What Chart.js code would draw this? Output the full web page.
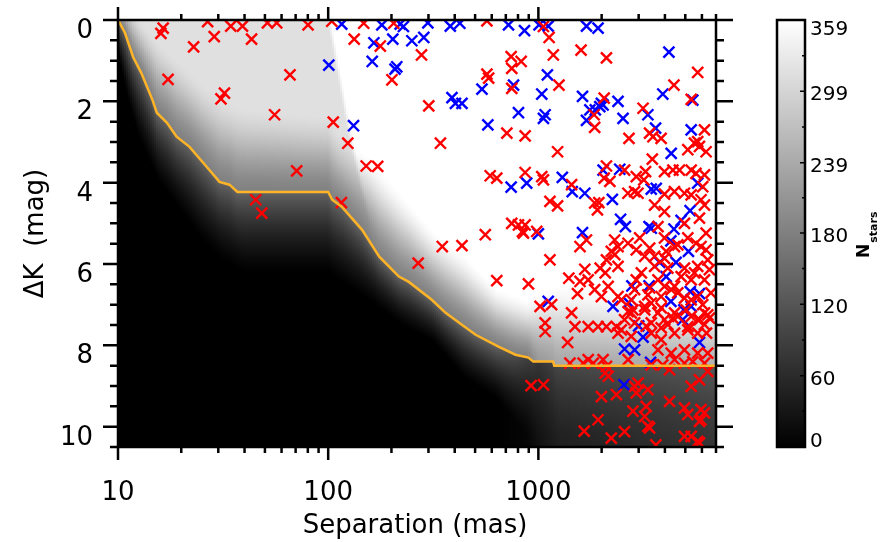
<!DOCTYPE html>
<html>
<head>
<meta charset="utf-8">
<script src="https://cdn.jsdelivr.net/npm/chart.js@4/dist/chart.umd.min.js"></script>
<style>
html,body{margin:0;padding:0;background:#fff;}
canvas{display:block;}
</style>
</head>
<body>
<canvas id="c" width="881" height="542"></canvas>
<script>
// ---------------- data ----------------
const xMajorTicks = [10, 100, 1000];
const xTickLabels = ['10', '100', '1000'];
const yMajorTicks = [0, 2, 4, 6, 8, 10];
const yTickLabels = ['0', '2', '4', '6', '8', '10'];
const cbTicks = [0, 60, 120, 180, 239, 299, 359];
const cbMax = 359;
const xTitle = 'Separation (mas)';
const yTitle = '\u0394K  (mag)';

// detection-limit contour (orange line)
const contourSep = [10, 10.4, 10.8, 11.8, 12.9, 14.6, 15.3, 17.1, 19.0, 21.9, 26.4, 30.4, 33.9, 37.0, 100, 104.5, 116, 145, 175, 217, 242, 311, 362, 431, 503, 646, 778, 897, 946, 1175, 1190, 7000];
const contourDK = [0, 0.16, 0.32, 0.91, 1.30, 1.97, 2.28, 2.53, 2.87, 3.12, 3.61, 3.98, 4.05, 4.23, 4.23, 4.42, 4.59, 5.16, 5.82, 6.31, 6.44, 6.88, 7.20, 7.49, 7.74, 8.03, 8.23, 8.30, 8.40, 8.40, 8.50, 8.50];

// background map (N stars) described column by column
const mapSep        = [10, 11.2, 12.6, 15.8, 20, 25.1, 31.6, 39.8, 63.1, 100, 112, 158, 224, 316, 447, 631, 891, 1000, 1259, 2512, 7000];
const mapFadeStart  = [-0.6, -0.4, 0.0, 0.6, 1.1, 1.6, 2.0, 2.2, 2.3, 2.4, 2.8, 3.4, 4.3, 5.2, 5.8, 6.6, 6.9, 6.7, 6.5, 6.7, 6.9];
const mapFadeEnd    = [0.8, 2.0, 2.9, 4.0, 4.7, 5.4, 5.9, 6.2, 6.2, 6.2, 6.4, 6.9, 7.5, 7.9, 8.8, 9.3, 10.2, 10.5, 10.5, 10.5, 10.5];
const mapLevelAbove = [180, 180, 180, 180, 180, 180, 180, 180, 180, 180, 180, 180, 180, 180, 180, 180, 180, 215, 235, 240, 248];
const mapLevelBelow = [140, 140, 140, 140, 140, 140, 140, 140, 140, 140, 140, 140, 140, 140, 140, 140, 90, 75, 100, 110, 124];
const mapLevelEnd   = [0, 0, 0, 0, 0, 0, 0, 0, 0, 0, 0, 0, 0, 0, 0, 0, 8, 22, 42, 55, 75];
const plateauLow = 315, plateauHigh = 359;
const plateauEdgeSep = [101, 123, 137, 158];
const plateauEdgeDK  = [0, 2.45, 3.6, 5.0];

// companions
const redSep = [16.4,16.0,26.7,28.7,22.9,34.4,39.1,43.2,51.4,56.9,80.2,17.3,32.1,30.9,65.8,55.6,70.8,45.2,48.3,
105.7,124,151.6,172,115.6,133,177,201,147.6,205,268,104,278,301,342,569,569,580,742,828,747,747,708,865,590,634,865,349,433,559,747,804,849,634,897,
1057,1125,1178,1596,2108,1253,2056,5728,4416,5333,3148,1841,1853,1234,2698,3381,3508,3837,5140,5530,5840,6280,6170,5728,3484,1038,1057,1439,2108,2056,2188,2572,2923,3236,3176,3981,4365,4690,5333,5620,6170,3981,4440,4955,5333,2667,2870,
1135,1234,1853,1910,1940,865,840,982,1694,1578,1135,1396,1663,1578,1535,1019,1156,1439,1077,1493,
2307,2223,2108,2393,1968,2080,1726,1853,1995,2148,2393,
2979,3573,3981,6053,6170,4955,5840,6280,3707,3981,4440,5940,5140,
2923,3206,3573,3981,4955,5728,6394,3090,3707,4446,5333,6170,2870,3319,3837,4285,4955,5728,6622,2673,3206,3707,4446,5333,6170,2870,3444,4130,5140,6170,2767,2393,
2310,2670,3034,3384,4055,4607,5623,6277,3573,4130,4777,5530,6512,2923,3384,3981,4607,5333,6053,2482,2819,3444,3840,4365,5045,5840,6512,2570,3260,3840,
1077,1378,1726,1923,2108,2350,2480,1413,1633,1726,1825,2032,2108,
923,1057,1995,2350,1923,1652,2223,2570,2080,2150,2870,2979,2923,3319,3258,3206,3381,3319,2818,4207,4955,5140,5940,5840,4955,5333,5728,5840,5333,4207,4955,5430,6170,6394,3444,3908,4446,
2767,3206,3981,4613,5728,6394,2393,2767,3444,3837,4446,5140,5728,6310,3707,4285,4955,5728,6394,2673,
6170,5940,5840,5940,3622];
const redDK = [0.20,0.33,0.04,0.41,0.66,0.15,0.15,0.47,0.07,0.07,0.12,1.46,1.80,1.94,1.35,2.33,3.71,4.42,4.75,
2.51,3.03,3.59,3.60,4.49,0.47,0.64,1.47,0.08,0.08,5.98,0.03,0.86,2.11,3.03,0.02,1.33,1.43,0.90,1.02,1.19,1.68,2.78,2.85,3.83,3.89,3.75,5.57,5.55,5.28,5.00,5.04,5.24,6.41,6.49,
0.16,0.43,0.86,0.74,0.93,1.60,1.92,1.29,1.60,1.95,2.17,2.33,2.64,3.24,2.91,2.78,2.87,2.91,3.19,3.03,3.11,3.24,2.70,2.99,3.42,3.85,3.93,4.05,3.59,3.89,3.97,3.69,3.85,3.73,3.93,3.73,3.69,3.69,3.69,3.77,3.81,4.28,4.22,4.26,4.30,4.26,4.22,
4.46,4.57,4.50,4.67,4.49,5.04,5.20,5.20,5.41,5.57,5.90,6.35,6.13,6.43,6.73,7.04,7.00,7.20,7.45,7.54,
5.41,5.69,5.90,5.57,6.10,6.22,6.39,6.63,6.80,6.55,6.06,
4.26,4.55,4.71,4.10,4.55,5.00,4.87,5.24,5.08,5.36,5.57,5.57,5.36,
5.65,5.81,6.06,5.86,6.10,6.06,5.90,6.22,6.39,6.55,6.39,6.39,6.63,6.76,6.80,6.63,6.84,6.80,6.71,7.17,7.04,7.20,7.20,7.29,7.20,7.45,7.45,7.49,7.54,7.49,6.88,6.80,
5.77,5.49,5.36,5.61,5.69,5.53,5.49,5.65,5.81,6.10,6.31,6.22,6.14,6.39,6.59,6.55,6.71,6.88,7.00,6.88,7.13,6.96,7.08,7.33,7.13,7.37,7.33,7.37,7.53,7.57,
7.66,7.93,7.54,7.54,7.54,7.54,7.62,8.44,8.44,8.35,8.44,8.35,8.52,
8.99,8.97,9.26,9.21,9.83,10.11,10.28,10.12,8.68,8.76,9.01,8.93,9.17,9.09,9.50,9.75,10.03,9.99,9.62,9.38,9.54,9.70,9.58,9.87,10.24,10.24,10.36,8.85,9.01,8.60,8.44,8.40,8.44,8.64,8.48,8.48,8.35,
7.20,7.13,7.37,7.29,7.37,7.25,7.70,7.78,7.70,7.86,7.70,7.62,7.70,7.70,8.11,8.19,8.11,8.19,8.19,8.35,
9.66,9.83,10.40,4.42,10.45];

const blueSep = [100.7,132,116,180,220,228,165,203,250,162,208,212,
298,381,423,721,859,285,388,403,433,539,575,762,804,742,880,
1007,1114,1694,1923,4178,1104,1038,1622,1995,2032,1960,1866,1758,1694,2393,2528,3908,5430,3319,3611,1057,1077,4285,5333,2032,2439,1300,1449,1663,3444,3637,5728,
2249,1000,1622,2461,2594,3361,3444,4416,4775,5270,4270,5176,3776,4520,4055,2786,3361,5280,5840,2688,2265,4270,4920,5333,4864,1114,3000,
3148,2570,2870,3420,5840,2557];
const blueDK = [1.11,2.60,0.10,0.12,0.10,0.16,0.56,0.47,0.51,1.02,1.21,1.15,
0.07,0.15,0.08,0.12,0.26,0.43,1.91,2.05,2.05,1.70,2.58,1.60,2.28,4.11,4.01,
0.12,0.15,0.15,0.20,0.79,1.35,1.82,1.88,2.05,2.09,2.13,2.21,2.21,2.47,2.00,2.42,1.82,1.97,2.33,2.66,2.42,2.33,3.28,2.70,3.69,3.67,3.87,4.22,4.26,4.16,4.14,4.01,
4.41,5.26,5.23,4.90,5.08,5.08,5.12,5.14,4.93,4.69,5.43,5.69,5.96,5.96,6.31,6.54,6.54,6.68,6.73,6.95,7.04,6.92,7.13,7.04,7.37,6.92,7.52,
7.80,8.09,8.11,8.42,7.93,8.97];

// ---------------- helpers ----------------
const FONT = '"DejaVu Sans", "Liberation Sans", sans-serif';
function interp(xs, ys, x) {
  if (x <= xs[0]) return ys[0];
  const n = xs.length;
  if (x >= xs[n - 1]) return ys[n - 1];
  for (let i = 1; i < n; i++) {
    if (x <= xs[i]) {
      const t = (x - xs[i - 1]) / (xs[i] - xs[i - 1]);
      return ys[i - 1] + t * (ys[i] - ys[i - 1]);
    }
  }
  return ys[n - 1];
}
const lg = v => Math.log10(v);
const mapLogSep = mapSep.map(lg);
const contourLogSep = contourSep.map(lg);
const plateauEdgeLog = plateauEdgeSep.map(lg);
const toXY = (xs, ys) => xs.map((v, i) => ({x: v, y: ys[i]}));
const easeIn = u => u * u * (3 - 2 * u) * 0.6 + u * 0.4;
const easeOut = w => 0.5 * w + 0.5 * (1 - (1 - w) * (1 - w));

// ---------------- background map plugin ----------------
const mapPlugin = {
  id: 'nstarsMap',
  beforeDatasetsDraw(chart) {
    const {ctx, chartArea: a, scales: {x, y}} = chart;
    const L = Math.round(a.left), T = Math.round(a.top);
    const W = Math.round(a.right) - L, H = Math.round(a.bottom) - T;
    const img = ctx.createImageData(W, H);
    const d = img.data;
    const cell = 2;
    for (let cx = 0; cx < W; cx += cell) {
      const s = lg(x.getValueForPixel(L + cx + cell / 2));
      const kA = interp(mapLogSep, mapFadeStart, s);
      const kE = interp(mapLogSep, mapFadeEnd, s);
      const Lc = interp(mapLogSep, mapLevelAbove, s);
      const Lc2 = interp(mapLogSep, mapLevelBelow, s);
      const Le = interp(mapLogSep, mapLevelEnd, s);
      const kC = interp(contourLogSep, contourDK, s);
      for (let cy = 0; cy < H; cy += cell) {
        const k = y.getValueForPixel(T + cy + cell / 2);
        const edge = interp(plateauEdgeDK, plateauEdgeLog, k);
        let t = (s - edge) / 0.02 + 0.5;
        t = Math.max(0, Math.min(1, t));
        const P = plateauLow + (plateauHigh - plateauLow) * t;
        let v;
        if (k <= kC) {
          if (k <= kA || kC <= kA) v = P;
          else v = P + (Lc - P) * easeIn((k - kA) / (kC - kA));
        } else if (k >= kE) {
          v = Le;
        } else {
          v = Lc2 + (Le - Lc2) * easeOut((k - kC) / (kE - kC));
        }
        const g = Math.max(0, Math.min(255, Math.round(v / cbMax * 255)));
        for (let yy = cy; yy < Math.min(cy + cell, H); yy++) {
          for (let xx = cx; xx < Math.min(cx + cell, W); xx++) {
            const idx = (yy * W + xx) * 4;
            d[idx] = g; d[idx + 1] = g; d[idx + 2] = g; d[idx + 3] = 255;
          }
        }
      }
    }
    ctx.putImageData(img, L, T);
  }
};

// ---------------- axes / colorbar plugin ----------------
const axesPlugin = {
  id: 'idlAxes',
  afterDatasetsDraw(chart) {
    const {ctx, chartArea: a, scales: {x, y}} = chart;
    ctx.save();
    ctx.strokeStyle = '#000';
    ctx.fillStyle = '#000';
    ctx.lineWidth = 2.5;
    ctx.lineCap = 'butt';
    ctx.strokeRect(a.left, a.top, a.right - a.left, a.bottom - a.top);

    ctx.beginPath();
    for (let dec = 10; dec <= 1000; dec *= 10) {
      for (let m = 1; m <= 9; m++) {
        const v = dec * m;
        if (v > x.max) break;
        const px = x.getPixelForValue(v);
        const len = m === 1 ? 13 : 6;
        ctx.moveTo(px, a.bottom); ctx.lineTo(px, a.bottom + len);
        ctx.moveTo(px, a.top); ctx.lineTo(px, a.top - len);
      }
    }
    for (let v = 0; v <= y.max + 1e-6; v += 0.5) {
      const py = y.getPixelForValue(v);
      const major = Math.abs(v % 2) < 1e-6;
      ctx.moveTo(a.left, py); ctx.lineTo(a.left - (major ? 15 : 8), py);
      ctx.moveTo(a.right, py); ctx.lineTo(a.right + (major ? 17 : 8), py);
    }
    ctx.stroke();

    ctx.font = '26px ' + FONT;
    ctx.textAlign = 'center';
    ctx.textBaseline = 'alphabetic';
    xMajorTicks.forEach((v, i) => {
      ctx.fillText(xTickLabels[i], x.getPixelForValue(v), a.bottom + 53);
    });
    ctx.textAlign = 'right';
    yMajorTicks.forEach((v, i) => {
      ctx.fillText(yTickLabels[i], 93, y.getPixelForValue(v) + 18);
    });
    ctx.textAlign = 'center';
    ctx.fillText(xTitle, (a.left + a.right) / 2 - 2, a.bottom + 86);
    ctx.save();
    ctx.translate(43, (a.top + a.bottom) / 2);
    ctx.rotate(-Math.PI / 2);
    ctx.fillText(yTitle, 0, 0);
    ctx.restore();

    // colorbar
    const cbL = 777, cbR = 805, cbT = a.top, cbB = a.bottom;
    const cbPix = v => cbB - (v / cbMax) * (cbB - cbT);
    const grad = ctx.createLinearGradient(0, cbB, 0, cbT);
    grad.addColorStop(0, '#000');
    grad.addColorStop(1, '#fff');
    ctx.fillStyle = grad;
    ctx.fillRect(cbL, cbT, cbR - cbL, cbB - cbT);
    ctx.fillStyle = '#000';
    ctx.lineWidth = 2.5;
    ctx.strokeRect(cbL, cbT, cbR - cbL, cbB - cbT);
    ctx.lineWidth = 1.5;
    ctx.beginPath();
    for (let i = 1; i < cbTicks.length - 1; i++) {
      const py = cbPix(cbTicks[i]);
      ctx.moveTo(cbR, py); ctx.lineTo(cbR - 5, py);
    }
    for (let i = 0; i < cbTicks.length - 1; i++) {
      const py = cbPix((cbTicks[i] + cbTicks[i + 1]) / 2);
      ctx.moveTo(cbR, py); ctx.lineTo(cbR - 3, py);
    }
    ctx.stroke();
    ctx.font = '20px ' + FONT;
    ctx.textAlign = 'left';
    cbTicks.forEach(v => {
      const by = Math.max(cbT + 15, Math.min(cbB, cbPix(v) + 9));
      ctx.fillText(String(v), 810, by);
    });
    ctx.save();
    ctx.translate(869, 258);
    ctx.rotate(-Math.PI / 2);
    ctx.font = 'bold 17px ' + FONT;
    ctx.textAlign = 'left';
    ctx.fillText('N', 0, 0);
    const nw = ctx.measureText('N').width;
    ctx.font = 'bold 11px ' + FONT;
    ctx.fillText('stars', nw + 1, 8);
    ctx.restore();
    ctx.restore();
  }
};

// ---------------- chart ----------------
new Chart(document.getElementById('c'), {
  type: 'scatter',
  data: {
    datasets: [
      {
        label: 'contour',
        data: toXY(contourSep, contourDK),
        showLine: true,
        borderColor: '#FFB428',
        borderWidth: 2.5,
        pointRadius: 0,
        fill: false
      },
      {
        label: 'red',
        data: toXY(redSep, redDK),
        pointStyle: 'crossRot',
        pointRadius: 7.8,
        pointBorderWidth: 2.4,
        borderColor: '#ff0000',
        backgroundColor: '#ff0000',
        pointBorderColor: '#ff0000'
      },
      {
        label: 'blue',
        data: toXY(blueSep, blueDK),
        pointStyle: 'crossRot',
        pointRadius: 7.8,
        pointBorderWidth: 2.4,
        borderColor: '#0000ff',
        backgroundColor: '#0000ff',
        pointBorderColor: '#0000ff'
      }
    ]
  },
  options: {
    responsive: false,
    devicePixelRatio: 1,
    animation: false,
    layout: {padding: {left: 118, right: 165, top: 20, bottom: 95}},
    plugins: {legend: {display: false}, tooltip: {enabled: false}},
    scales: {
      x: {type: 'logarithmic', min: 10, max: 7000, display: false},
      y: {type: 'linear', min: 0, max: 10.5, reverse: true, display: false}
    }
  },
  plugins: [mapPlugin, axesPlugin]
});
</script>
</body>
</html>
